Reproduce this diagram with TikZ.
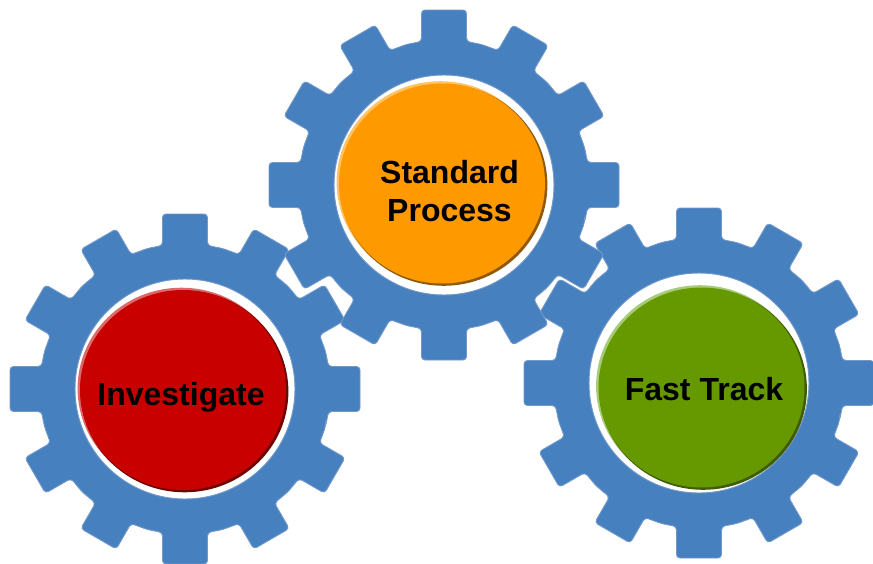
\documentclass[tikz,border=0pt]{standalone}
\usepackage{fontspec}
\usetikzlibrary{shapes.geometric}
\setmainfont{Liberation Sans}
\definecolor{gearblue}{HTML}{4680BE}
\definecolor{gearedge}{HTML}{7399CB}
\tikzset{
  gearshape/.style={fill=gearblue,draw=gearedge,line width=0.9pt,even odd rule,rounded corners=3.5pt},
  disclabel/.style={font=\bfseries\fontsize{32}{38}\selectfont,text=black,align=center,inner sep=0pt},
}
\newcommand{\gearat}[2]{% cx, cy
  \path[gearshape,shift={(#1,#2)}]
    ([rotate=-15]145.5,0) \foreach \a/\w/\r in {0/22.5/175,30/20.5/173,60/20.5/173,90/22.5/175,120/20.5/173,150/20.5/173,180/22.5/175,210/20.5/173,240/20.5/173,270/22.5/175,300/20.5/173,330/20.5/173}{
      -- ([rotate=\a]143.5,\w) -- ([rotate=\a]\r,\w) -- ([rotate=\a]\r,-\w) -- ([rotate=\a]143.5,-\w)
      -- ([rotate=\a+15]145.5,0)
    } -- cycle
    [sharp corners] (0,0) circle[radius=110];
}
\newcommand{\discat}[6]{% name, cx, cy, main, light, dark
  \fill[#5] (#2-1.6,#3-1.5) circle[x radius=103.8,y radius=100.8];
  \fill[#6] (#2+1.6,#3+1.5) circle[x radius=103.8,y radius=100.8];
  \node[ellipse,inner sep=0pt,minimum width=206pt,minimum height=200pt,fill=#4] (#1) at (#2,#3) {};
}
\definecolor{orangemain}{HTML}{FF9900}
\definecolor{orangelight}{HTML}{FFC266}
\definecolor{orangedark}{HTML}{8F5A0C}
\definecolor{redmain}{HTML}{C80000}
\definecolor{redlight}{HTML}{DD6A6A}
\definecolor{reddark}{HTML}{6E0505}
\definecolor{greenmain}{HTML}{669900}
\definecolor{greenlight}{HTML}{A6CC7A}
\definecolor{greendark}{HTML}{3F5C05}
\begin{document}
\begin{tikzpicture}[x=1pt,y=-1pt]
\useasboundingbox (0,0) rectangle (873,563);
\gearat{185}{389}
\gearat{699}{383}
\gearat{444}{185}
\discat{orangedisc}{442}{183.5}{orangemain}{orangelight}{orangedark}
\discat{reddisc}{183}{390}{redmain}{redlight}{reddark}
\discat{greendisc}{701.5}{387.5}{greenmain}{greenlight}{greendark}
\node[disclabel] (standard) at (449.5,191.5) {Standard\\Process};
\node[disclabel] (investigate) at (181,397.5) {Investigate};
\node[disclabel] (fasttrack) at (704,389.5) {Fast Track};
\end{tikzpicture}
\end{document}
